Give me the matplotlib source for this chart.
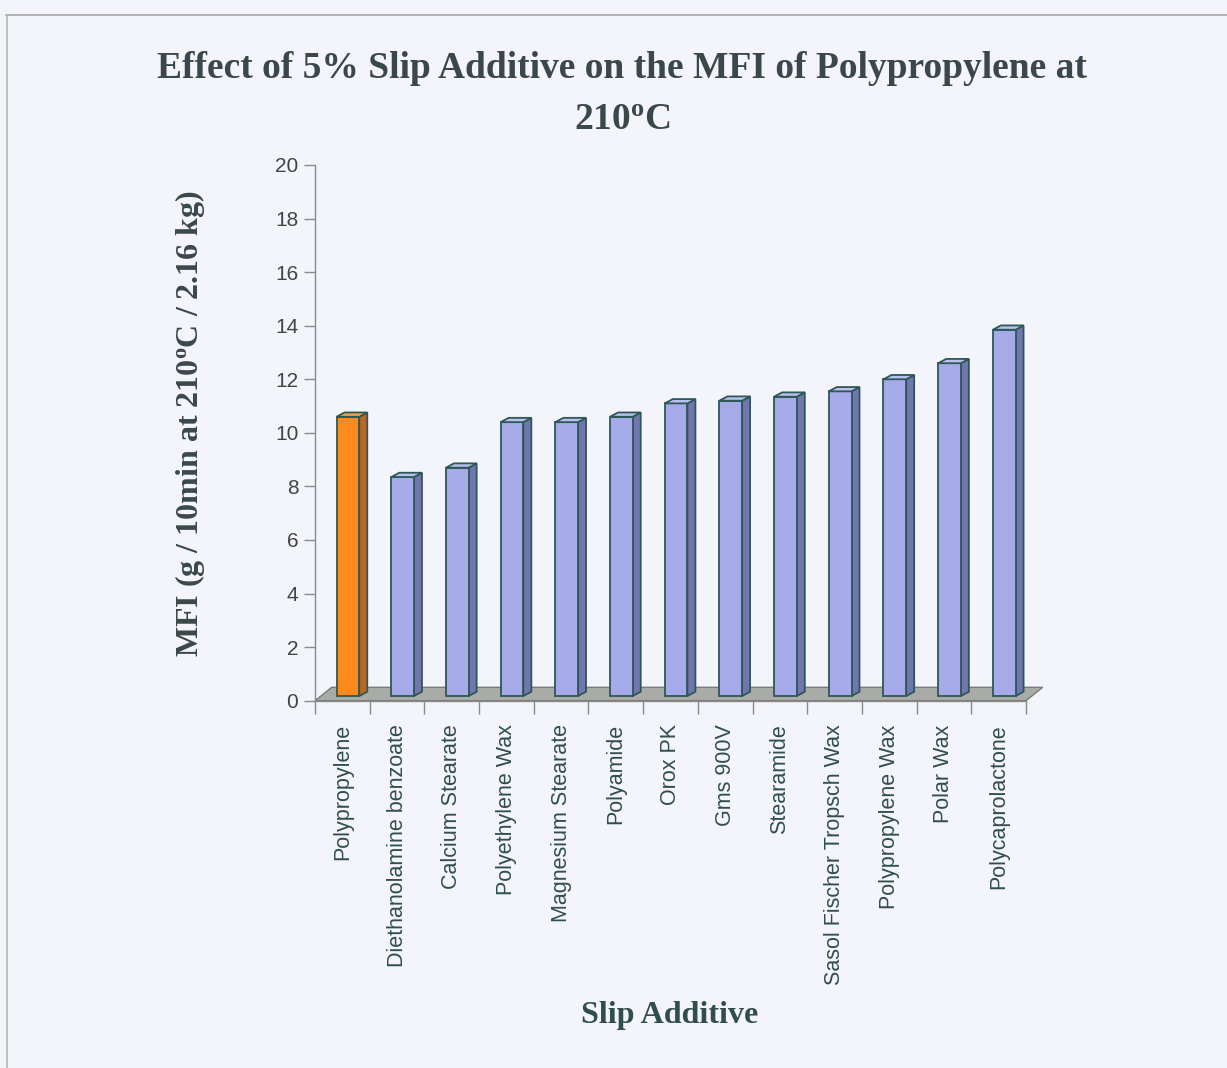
import numpy as np
import matplotlib
matplotlib.use("Agg")
import matplotlib.pyplot as plt
from matplotlib.patches import Polygon
from matplotlib.lines import Line2D

# ---- data -------------------------------------------------------------
additives = [
    "Polypropylene", "Diethanolamine benzoate", "Calcium Stearate",
    "Polyethylene Wax", "Magnesium Stearate", "Polyamide", "Orox PK",
    "Gms 900V", "Stearamide", "Sasol Fischer Tropsch Wax",
    "Polypropylene Wax", "Polar Wax", "Polycaprolactone",
]
mfi = [10.6, 8.35, 8.7, 10.4, 10.4, 10.6, 11.1, 11.2, 11.35, 11.55, 12.0, 12.6, 13.85]
y_ticks = [0, 2, 4, 6, 8, 10, 12, 14, 16, 18, 20]

title_line1 = "Effect of 5% Slip Additive on the MFI of Polypropylene at"
title_line2 = "210$^{\\mathrm{o}}$C"
y_title = "MFI (g / 10min at 210$^{\\mathrm{o}}$C / 2.16 kg)"
x_title = "Slip Additive"

# ---- style ------------------------------------------------------------
plt.rcParams["mathtext.fontset"] = "custom"
plt.rcParams["mathtext.rm"] = "Liberation Serif:bold"
plt.rcParams["mathtext.it"] = "Liberation Serif:bold"
plt.rcParams["mathtext.bf"] = "Liberation Serif:bold"

BG = "#f4f4fb"
TXT_DARK = "#3a4947"
EDGE = "#2c5856"
front_blue, side_blue, top_blue = "#a6aae8", "#7276b0", "#bcc0ee"
front_or, side_or, top_or = "#ff8a1c", "#c0651c", "#ffa040"

W, H = 1227, 1068
fig = plt.figure(figsize=(W / 100, H / 100), dpi=100, facecolor=BG)

# axes placed so that 0..20 and the 13 category slots land in the frame
x0_px, x1_px = 315, 1026
y0_px, y20_px = 700.7, 165
ax = fig.add_axes([x0_px / W, 1 - y0_px / H, (x1_px - x0_px) / W, (y0_px - y20_px) / H])
ax.set_facecolor("none")
n = len(additives)
ax.set_xlim(0, n)
ax.set_ylim(0, 20)

# pseudo-3D geometry (x in category units, y in value units)
floor_dx, floor_dy = 0.305, 0.50
bar_off_x, bar_off_y = 0.102, 0.175
bar_dx, bar_dy = 0.146, 0.16
bar_w = 0.415

# floor
floor = Polygon([(0, 0), (n, 0), (n + floor_dx, floor_dy), (floor_dx, floor_dy)],
                closed=True, facecolor="#a9aba7", edgecolor="#7a7c79", lw=1.0,
                clip_on=False, zorder=1)
ax.add_patch(floor)

centers = np.arange(n) + 0.5 + bar_off_x
vals = np.array(mfi)
fronts = [front_or] + [front_blue] * (n - 1)
sides = [side_or] + [side_blue] * (n - 1)
tops = [top_or] + [top_blue] * (n - 1)

bars = ax.bar(centers, vals - bar_off_y, bottom=bar_off_y, width=bar_w,
              color=fronts, edgecolor=EDGE, linewidth=1.3, zorder=4, clip_on=False)

for rect, sc, tc in zip(bars, sides, tops):
    xl = rect.get_x()
    xr = xl + rect.get_width()
    yb = rect.get_y()
    yt = yb + rect.get_height()
    side = Polygon([(xr, yb), (xr + bar_dx, yb + bar_dy), (xr + bar_dx, yt + bar_dy), (xr, yt)],
                   closed=True, facecolor=sc, edgecolor=EDGE, lw=1.3, zorder=3, clip_on=False)
    top = Polygon([(xl, yt), (xr, yt), (xr + bar_dx, yt + bar_dy), (xl + bar_dx, yt + bar_dy)],
                  closed=True, facecolor=tc, edgecolor=EDGE, lw=1.3, zorder=5, clip_on=False)
    ax.add_patch(side)
    ax.add_patch(top)

# ---- axes & ticks -----------------------------------------------------
for s in ["top", "right"]:
    ax.spines[s].set_visible(False)
ax.spines["left"].set_color("#8a8a8a")
ax.spines["bottom"].set_color("#8a8a8a")
ax.spines["left"].set_linewidth(1.0)
ax.spines["bottom"].set_linewidth(1.0)
ax.spines["bottom"].set_zorder(2)

ax.set_yticks(y_ticks)
ax.set_yticklabels([str(t) for t in y_ticks], fontsize=15, color="#444444",
                   family="Liberation Sans")
ax.tick_params(axis="y", direction="out", length=8, width=1.0, color="#8a8a8a", pad=4)

ax.set_xticks(np.arange(n + 1))
ax.set_xticklabels([])
ax.tick_params(axis="x", which="major", direction="out", length=9, width=1.0, color="#8a8a8a")
ax.set_xticks(np.arange(n) + 0.5, minor=True)
ax.set_xticklabels(additives, minor=True, rotation=90, fontsize=15.5,
                   color="#2f4f4d", family="Liberation Sans", va="top", ha="center")
ax.tick_params(axis="x", which="minor", length=0, pad=17)

# ---- titles -----------------------------------------------------------
fig.text(622 / W, 1 - 68 / H, title_line1, ha="center", va="center",
         fontsize=27, fontweight="bold", family="Liberation Serif", color=TXT_DARK)
fig.text(622 / W, 1 - 120 / H, title_line2, ha="center", va="center",
         fontsize=27, fontweight="bold", family="Liberation Serif", color=TXT_DARK)
fig.text(190 / W, 1 - 423 / H, y_title, ha="center", va="center", rotation=90,
         fontsize=23, fontweight="bold", family="Liberation Serif", color=TXT_DARK)
fig.text(670 / W, 1 - 1016 / H, x_title, ha="center", va="center",
         fontsize=23, fontweight="bold", family="Liberation Serif", color="#2f4f4d")

# chart frame
fig.add_artist(Line2D([6 / W, 1.0], [1 - 15 / H, 1 - 15 / H], transform=fig.transFigure,
                      color="#a8a8a8", lw=1.2))
fig.add_artist(Line2D([7 / W, 7 / W], [1 - 15 / H, 0], transform=fig.transFigure,
                      color="#b8b8b8", lw=1.2))

fig.savefig("out.png", dpi=100, facecolor=BG)
